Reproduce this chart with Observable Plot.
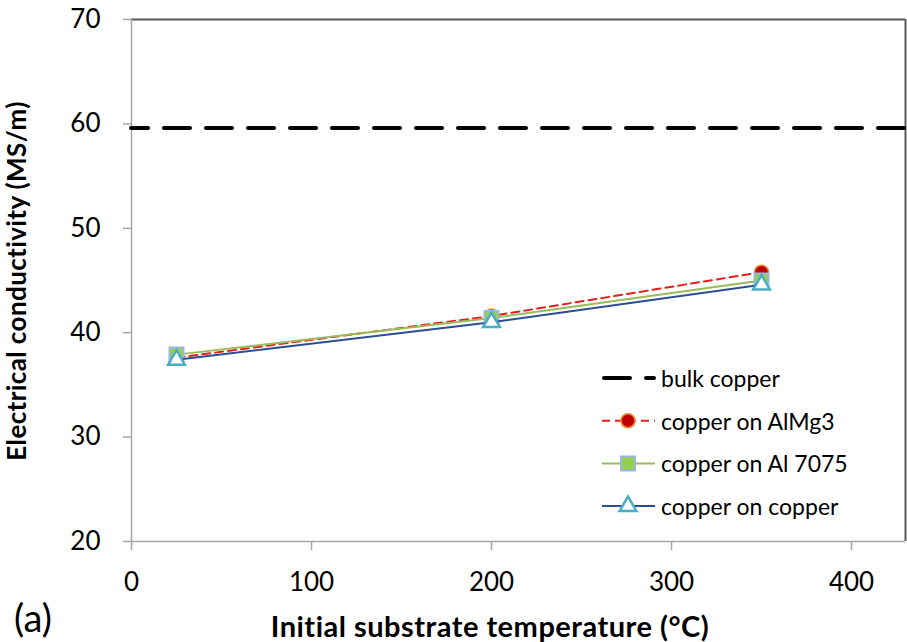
<!DOCTYPE html>
<html><head><meta charset="utf-8">
<script src="https://cdn.jsdelivr.net/npm/d3@7"></script>
<script src="https://cdn.jsdelivr.net/npm/@observablehq/plot@0.6"></script>
<style>
body{margin:0;background:#fff;}
#wrap{position:relative;width:907px;height:642px;overflow:hidden;font-family:Lato,"Open Sans",sans-serif;color:#000;background:#fff;}
#wrap svg{position:absolute;left:0;top:0;}
</style></head><body><div id="wrap"></div>
<script>
// ---- data ----
const temps = [25, 200, 350];
const bulkCopper = 59.6;
const alMg3 = [37.6, 41.6, 45.8];
const al7075 = [37.9, 41.4, 45.0];
const cuOnCu = [37.4, 41.0, 44.6];
const seriesNames = ["bulk copper", "copper on AlMg3", "copper on Al 7075", "copper on copper"];
const xTicks = [0, 100, 200, 300, 400];
const yTicks = [20, 30, 40, 50, 60, 70];
const xDomain = [0, 430];
const yDomain = [20, 70];
const xTitle = "Initial substrate temperature (°C)";
const yTitle = "Electrical conductivity (MS/m)";
const panelLabel = "(a)";

const rows = vals => temps.map((t, i) => ({t, v: vals[i]}));
const rMg = rows(alMg3), r7075 = rows(al7075), rCu = rows(cuOnCu);

const sty = {
  bulk: {stroke: "#000", strokeWidth: 4, strokeDasharray: "26,16", strokeLinecap: "round"},
  mg: {stroke: "#e0201b", strokeWidth: 2, strokeDasharray: "8,5"},
  a7: {stroke: "#9bbb59", strokeWidth: 2},
  cu: {stroke: "#2a4f8f", strokeWidth: 2}
};
const dotSty = {
  mg: {symbol: "circle", r: 7, fill: "#c00000", stroke: "#f08a30", strokeWidth: 1.5},
  a7: {symbol: "square", r: 7.9, fill: "#92d050", stroke: "#9bb7d9", strokeWidth: 2},
  cu: {symbol: "triangle", r: 6.2, fill: "#fff", stroke: "#4bacc6", strokeWidth: 2.5}
};

const chart = Plot.plot({
  width: 907, height: 642,
  marginLeft: 131, marginRight: 2, marginTop: 19, marginBottom: 101,
  x: {domain: xDomain},
  y: {domain: yDomain},
  style: {fontFamily: "Lato, 'Open Sans', sans-serif", fontSize: "26px", color: "#000", background: "transparent", overflow: "visible"},
  marks: [
    Plot.ruleY([yDomain[1]], {stroke: "#595959", strokeWidth: 2}),
    Plot.ruleX([xDomain[1]], {stroke: "#595959", strokeWidth: 2}),
    Plot.ruleX([xDomain[0]], {stroke: "#a6a6a6", strokeWidth: 1.5}),
    Plot.ruleY([yDomain[0]], {stroke: "#a6a6a6", strokeWidth: 1.5}),
    Plot.axisX({ticks: xTicks, tickSize: 9, tickPadding: 22, stroke: "#a6a6a6", strokeWidth: 1.5, fill: "#000", label: null, tickFormat: d => String(d)}),
    Plot.axisY({ticks: yTicks, tickSize: 8, tickPadding: 23, stroke: "#a6a6a6", strokeWidth: 1.5, fill: "#000", label: null, tickFormat: d => String(d)}),
    Plot.ruleY([bulkCopper], {...sty.bulk, strokeDashoffset: 9}),
    Plot.line(rMg, {x: "t", y: "v", ...sty.mg}),
    Plot.dot(rMg, {x: "t", y: "v", ...dotSty.mg}),
    Plot.line(r7075, {x: "t", y: "v", ...sty.a7}),
    Plot.dot(r7075, {x: "t", y: "v", ...dotSty.a7}),
    Plot.line(rCu, {x: "t", y: "v", ...sty.cu}),
    Plot.dot(rCu, {x: "t", y: "v", ...dotSty.cu})
  ]
});
const wrap = document.getElementById("wrap");
wrap.appendChild(chart);

// overlay: titles, panel label, legend
const ov = d3.select(wrap).append("svg").attr("width", 907).attr("height", 642)
  .style("font-family", "Lato, 'Open Sans', sans-serif");
ov.append("text").attr("transform", "translate(16,281) rotate(-90)")
  .attr("text-anchor", "middle").attr("dominant-baseline", "central")
  .attr("font-weight", "bold").attr("font-size", 26).attr("letter-spacing", 0.4).text(yTitle);
ov.append("text").attr("x", 490).attr("y", 625)
  .attr("text-anchor", "middle").attr("dominant-baseline", "central")
  .attr("font-weight", "bold").attr("font-size", 29).attr("letter-spacing", 0.5).text(xTitle);
ov.append("text").attr("x", 14).attr("y", 632).attr("font-size", 38).text(panelLabel);

const leg = ov.append("g").attr("transform", "translate(602,378)");
const keys = ["bulk", "mg", "a7", "cu"];
keys.forEach((k, i) => {
  const g = leg.append("g").attr("transform", `translate(0,${i * 42.7})`);
  const s = sty[k];
  g.append("line").attr("x1", k === "bulk" ? 2 : 0).attr("x2", k === "bulk" ? 52 : 53).attr("y1", 0).attr("y2", 0)
    .attr("stroke", s.stroke).attr("stroke-width", s.strokeWidth)
    .attr("stroke-dasharray", s.strokeDasharray || null)
    .attr("stroke-linecap", s.strokeLinecap || null);
  if (dotSty[k]) {
    const d = dotSty[k];
    const sym = {circle: d3.symbolCircle, square: d3.symbolSquare, triangle: d3.symbolTriangle}[d.symbol];
    g.append("path").attr("transform", "translate(26,0)")
      .attr("d", d3.symbol(sym, Math.PI * d.r * d.r)())
      .attr("fill", d.fill).attr("stroke", d.stroke).attr("stroke-width", d.strokeWidth);
  }
  g.append("text").attr("x", 59).attr("y", 0).attr("dominant-baseline", "central")
    .attr("font-size", 23).text(seriesNames[i]);
});
</script>
</body></html>
